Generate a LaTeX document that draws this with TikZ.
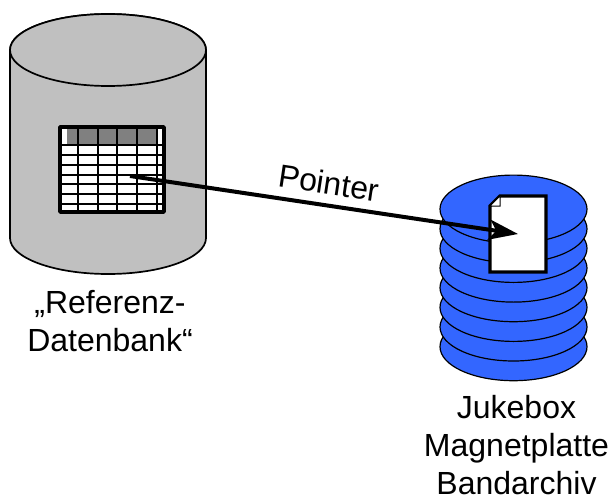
\documentclass[tikz,border=0pt]{standalone}
\usepackage{fontspec}
\setmainfont{Liberation Sans}
\usetikzlibrary{arrows.meta}
\definecolor{cylgrey}{HTML}{C0C0C0}
\definecolor{headgrey}{HTML}{808080}
\definecolor{diskblue}{HTML}{3366FF}
\tikzset{
  cyl/.style={fill=cylgrey,draw=black,line width=1.7pt},
  disk/.style={fill=diskblue,draw=black,line width=1.2pt},
  grid/.style={draw=black,line width=2pt},
  frame/.style={draw=black,line width=3.4pt,line join=round},
  docshape/.style={fill=white,draw=black,line width=3.2pt,line join=miter},
  pointer/.style={draw=black,line width=4pt,-{Stealth[length=29pt,width=20pt,inset=7pt]}},
  lbl/.style={font=\fontsize{32}{38}\selectfont,align=center,inner sep=0pt}
}
\begin{document}
\begin{tikzpicture}[x=1pt,y=-1pt]
\useasboundingbox (0,0) rectangle (610,495);
% database cylinder
\draw[cyl] (10,50) -- (10,238) arc[x radius=98,y radius=36,start angle=180,end angle=0] -- (206,50) arc[x radius=98,y radius=36,start angle=0,end angle=-180] -- cycle;
\draw[cyl] (108,50) ellipse[x radius=98,y radius=36];
% table
\fill[white] (60,127) rectangle (164,212);
\fill[headgrey] (66.7,127) rectangle (156.7,145);
\foreach \yy in {145,154.7,164.7,174.7,184.3,194,204} \draw[grid] (60,\yy) -- (164,\yy);
\foreach \xx in {78.3,97.7,117.3,137,156.7} \draw[grid] (\xx,127) -- (\xx,212);
\draw[frame] (60,127) rectangle (164,212);
% disks
\foreach \yy in {346.7,327,307.4,287.7,268.1,248.4,228.8,209.1}
  \draw[disk] (513.5,\yy) ellipse[x radius=73.5,y radius=34];
% document
\draw[docshape] (500,196) -- (546,196) -- (546,272) -- (490,272) -- (490,206) -- cycle;
\draw[fill=white,draw=black,line width=1pt] (500,196) -- (500,206) -- (490,206) -- cycle;
% connector
\coordinate (ptrstart) at (130,176);
\coordinate (ptrend) at (518,234);
\draw[pointer] (ptrstart) -- (ptrend);
% labels
\node[lbl,rotate=-8.5] (ptrlabel) at (329,183) {Pointer};
\node[lbl] (reflabel) at (110,321) {„Referenz-\\Datenbank“};
\node[lbl] (jukelabel) at (516.5,445) {Jukebox\\Magnetplatte\\Bandarchiv};
\end{tikzpicture}
\end{document}
